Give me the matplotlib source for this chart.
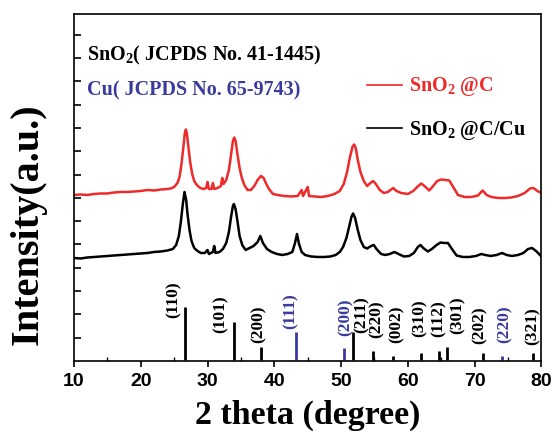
import matplotlib
matplotlib.use("Agg")
import matplotlib.pyplot as plt

# ---- data (intensity in arbitrary units) ----
red_x = [10.0, 11, 12, 13, 14, 15, 16, 17, 18, 19, 20, 21, 22, 23, 24, 24.5, 25.0, 25.5, 25.8,
         26.1, 26.4, 26.6, 26.75, 26.9, 27.1, 27.4, 27.7, 28.0, 28.4, 28.9, 29.4, 29.8, 30.0,
         30.2, 30.6, 30.8, 31.0, 31.5, 32.0, 32.2, 32.4, 32.8, 33.2, 33.5, 33.8, 34.0, 34.2,
         34.5, 34.8, 35.1, 35.5, 36.0, 36.5, 37.0, 37.5, 38.0, 38.4, 38.8, 39.2, 39.8, 40.5,
         41.5, 42.5, 43.5, 44.1, 44.3, 45.0, 45.2, 46, 47, 48, 49, 49.8, 50.4, 50.9, 51.3,
         51.7, 51.95, 52.2, 52.5, 52.9, 53.4, 53.9, 54.4, 54.8, 55.2, 55.8, 56.4, 57.0, 57.8,
         58.3, 59.0, 60.0, 60.8, 61.4, 62.0, 62.5, 63.2, 63.8, 64.4, 65.0, 65.6, 66.2, 66.8,
         67.5, 68.5, 69.5, 70.5, 71.2, 71.8, 72.5, 73.5, 74.6, 75.5, 76.5, 77.5, 78.3, 78.8,
         79.4, 80.0]
red_y = [165, 165.5, 165, 166, 166.5, 166.5, 167.5, 168, 168, 168.5, 169, 170, 169.5, 170.5,
         171, 171.5, 173, 177, 183, 196, 214, 227, 230.5, 227, 215, 198, 186, 179, 175, 172,
         171, 172, 178, 171, 171, 177, 171, 172, 174, 182, 176, 180, 190, 204, 219, 222.5,
         219, 205, 192, 183, 175, 170, 170, 174, 180, 184, 182, 176, 171, 166, 165, 164,
         163.5, 164, 170, 164, 173, 164, 163.5, 163, 164, 166, 169, 176, 188, 202, 213,
         215.5, 212, 200, 188, 179, 174, 177, 179, 176, 170, 167, 168, 172, 169, 167, 166,
         169, 173, 176.5, 174, 169.5, 174, 179, 180.5, 180, 179.5, 173, 165, 163, 163,
         164.5, 169.5, 165, 163, 162, 162, 162.5, 164, 167, 171.5, 172, 169, 167]

black_x = [10.0, 11, 12, 13, 14, 15, 16, 17, 18, 19, 20, 21, 22, 23, 24, 24.8, 25.3, 25.7,
           26.0, 26.3, 26.55, 26.8, 27.0, 27.3, 27.6, 28.0, 28.5, 29.0, 29.6, 30.0, 30.2,
           30.8, 31.0, 31.2, 31.8, 32.3, 32.8, 33.2, 33.5, 33.8, 33.95, 34.2, 34.5, 34.8,
           35.2, 35.7, 36.3, 36.9, 37.5, 37.9, 38.3, 38.9, 39.6, 40.4, 41.2, 42.0, 42.7,
           43.1, 43.4, 43.7, 44.1, 44.6, 45.5, 46.5, 47.5, 48.4, 49.2, 49.8, 50.3, 50.8,
           51.2, 51.55, 51.8, 52.1, 52.5, 52.9, 53.4, 53.9, 54.5, 54.9, 55.3, 56.0, 56.6,
           57.3, 58.0, 58.6, 59.4, 60.2, 60.9, 61.5, 61.9, 62.3, 63.0, 63.6, 64.3, 64.9,
           65.4, 66.0, 66.6, 67.3, 68.2, 69.2, 70.2, 71.0, 71.6, 72.4, 73.3, 74.1, 74.8,
           75.6, 76.5, 77.3, 78.0, 78.6, 79.2, 80.0]
black_y = [102, 101.5, 102.5, 103, 103.5, 104, 104.5, 105, 105.5, 106, 106.5, 107, 108,
           108.5, 109.5, 111, 115, 124, 138, 156, 168, 160, 146, 130, 119, 112, 109, 107,
           107, 110, 106, 108, 114, 107, 108, 111, 117, 128, 142, 154, 156, 151, 138, 124,
           115, 110, 112, 114, 118, 124, 117, 111, 108, 106, 105, 106, 108, 117, 126, 116,
           108, 105, 103.5, 103, 103, 103.5, 105, 108, 113, 122, 133, 143, 146.5, 142, 130,
           120, 113, 111.5, 114, 115, 111, 106, 105, 106, 108, 106, 103.5, 104, 107, 113,
           115, 112, 108.5, 111, 115, 117.5, 117, 117, 111, 104.5, 103, 103, 104, 106, 105,
           104, 105, 107, 105, 104, 105, 107, 111, 112, 109, 103.5]

# standard reflections
sno2_pos = [26.6, 33.9, 38.0, 51.8, 54.8, 57.8, 61.9, 64.7, 65.9, 71.3, 78.7]
sno2_int = [52.6, 38.3, 12.6, 28.3, 9.3, 4.3, 6.7, 9.3, 12.6, 6.7, 6.5]
sno2_hkl = ["(110)", "(101)", "(200)", "(211)", "(220)", "(002)", "(310)", "(112)",
            "(301)", "(202)", "(321)"]
cu_pos = [43.3, 50.4, 74.1]
cu_int = [28.3, 12.0, 4.0]
cu_hkl = ["(111)", "(200)", "(220)"]

# label placement (x in degrees, bottom of rotated text)
sno2_lab_x = [24.94, 31.93, 37.65, 53.12, 55.36, 58.36, 61.73, 64.58, 67.42, 70.71, 78.70]
sno2_lab_y = [42.3, 26.7, 17.3, 27, 22, 17, 23.3, 23.3, 26, 16, 15]
cu_lab_x = [42.5, 50.62, 74.55]
cu_lab_y = [30.7, 24, 16.7]

RED = "#ee2a2a"
BLUE = "#3a3a9c"
SERIF = "Liberation Serif"

plt.rcParams["mathtext.fontset"] = "custom"
plt.rcParams["mathtext.rm"] = "Liberation Serif:bold"
plt.rcParams["mathtext.bf"] = "Liberation Serif:bold"
plt.rcParams["mathtext.default"] = "bf"

fig = plt.figure(figsize=(5.53, 4.32), dpi=100)
ax = fig.add_axes([0.1338, 0.1644, 0.8452, 0.8032])

ax.plot(red_x, red_y, color=RED, lw=1.8)
ax.plot(black_x, black_y, color="black", lw=1.8)

ax.vlines(sno2_pos, 0, sno2_int, color="black", lw=2)
ax.vlines(cu_pos, 0, cu_int, color=BLUE, lw=2)

for x, y, t in zip(sno2_lab_x, sno2_lab_y, sno2_hkl):
    ax.text(x, y, t, rotation=90, ha="center", va="bottom", fontsize=12.5,
            fontfamily=SERIF, fontweight="bold", color="black")
for x, y, t in zip(cu_lab_x, cu_lab_y, cu_hkl):
    ax.text(x, y, t, rotation=90, ha="center", va="bottom", fontsize=12.5,
            fontfamily=SERIF, fontweight="bold", color=BLUE)

# JCPDS notes
ax.text(11.94, 300, "SnO$_2$( JCPDS No. 41-1445)", fontsize=14.5, fontfamily=SERIF,
        fontweight="bold", va="baseline")
ax.text(11.94, 264.8, "Cu( JCPDS No. 65-9743)", fontsize=14.5, fontfamily=SERIF,
        fontweight="bold", color=BLUE, va="baseline")

# legend drawn by hand
ax.plot([53.88, 59.14], [275.3, 275.3], color=RED, lw=1.2)
ax.text(60.12, 269, "SnO$_2$ @C", fontsize=14.5, fontfamily=SERIF, fontweight="bold",
        color=RED, va="baseline")
ax.plot([53.88, 59.14], [232.3, 232.3], color="black", lw=1.2)
ax.text(60.12, 225.3, "SnO$_2$ @C/Cu", fontsize=14.5, fontfamily=SERIF, fontweight="bold",
        color="black", va="baseline")

ax.set_xlim(10, 80)
ax.set_ylim(-1, 346)
ax.set_xticks(range(10, 81, 10))
ax.set_xticks(range(15, 80, 10), minor=True)
ax.set_yticks([23.3 * k - 1 for k in range(1, 15)])
ax.set_yticklabels([])
ax.tick_params(axis="y", which="major", direction="in", length=5, width=1.2)
ax.tick_params(axis="x", which="major", direction="out", length=4, width=1.2, pad=5)
ax.tick_params(axis="x", which="minor", direction="in", length=3, width=1)
for lab in ax.get_xticklabels():
    lab.set_fontfamily("Liberation Sans")
    lab.set_fontweight("bold")
    lab.set_fontsize(14)
for sp in ax.spines.values():
    sp.set_linewidth(1.2)

fig.text(0.557, 1 - 423.5 / 432, "2 theta (degree)", fontsize=24.5, fontfamily=SERIF,
         fontweight="bold", ha="center", va="baseline")
fig.text(28 / 553, 1 - 224 / 432, "Intensity(a.u.)", fontsize=29, fontfamily=SERIF,
         fontweight="bold", rotation=90, ha="center", va="center")

fig.savefig("out.png", dpi=100)
